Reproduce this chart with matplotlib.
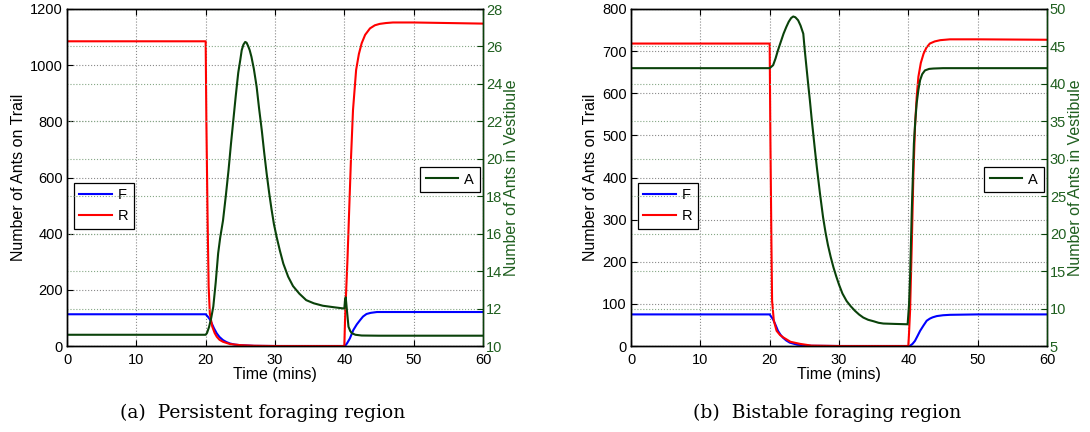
import matplotlib
matplotlib.use("Agg")
import matplotlib.pyplot as plt

# ---------------- Panel (a): Persistent foraging region ----------------
tF_a = [0, 20, 20.3, 20.6, 20.87, 21.2, 21.6, 22.0, 22.5, 23.0, 23.5, 24.2, 25, 27, 30,
        40, 40.1, 40.4, 40.8, 41.3, 41.8, 42.3, 42.7, 43.2, 43.8, 44.7, 46, 50, 60]
F_a = [113, 113, 105, 95, 81, 63, 45, 32, 21, 14, 9, 5, 3, 0.5, 0,
       0, 0, 10, 27, 57, 77, 93, 105, 114, 118, 121, 121, 121, 121]

tR_a = [0, 20, 20.1, 20.28, 20.43, 20.6, 20.95, 21.3, 21.6, 22.0, 22.5, 23.5, 25, 27, 30,
        40, 40.1, 40.25, 40.45, 40.7, 40.95, 41.25, 41.7, 42.1, 42.5, 43.0, 43.7,
        44.4, 45.1, 46, 47, 50, 55, 60]
R_a = [1085, 1085, 805, 449, 211, 116, 69, 46, 33, 22, 15, 7, 3, 1, 0,
       0, 90, 188, 306, 484, 662, 840, 983, 1040, 1078, 1108, 1131,
       1142, 1147, 1150, 1152, 1152, 1150, 1148]

tA_a = [0, 20, 20.2, 20.5, 20.8, 21.1, 21.45, 21.8, 22.1, 22.5, 22.9, 23.3, 23.65, 24.0,
        24.35, 24.7, 25.0, 25.2, 25.45, 25.7, 25.9, 26.15, 26.35, 26.6, 26.95, 27.35,
        27.7, 28.1, 28.45, 28.8, 29.15, 29.5, 29.85, 30.25, 30.7, 31.2, 31.9, 32.6,
        33.5, 34.5, 35.6, 36.9, 38.5, 40, 40.1, 40.2, 40.4, 40.6, 40.85, 41.1, 41.6,
        42.5, 45, 60]
A_a = [10.6, 10.6, 10.7, 11.03, 11.5, 12.1, 13.4, 14.95, 15.8, 16.7, 18.0, 19.4, 20.8, 22.1,
       23.4, 24.6, 25.3, 25.8, 26.1, 26.24, 26.2, 26.0, 25.8, 25.45, 24.8, 23.85,
       22.7, 21.5, 20.3, 19.2, 18.2, 17.3, 16.5, 15.8, 15.1, 14.4, 13.7, 13.2,
       12.8, 12.45, 12.28, 12.15, 12.07, 12.0, 12.45, 12.6, 11.8, 11.03, 10.8, 10.68, 10.6,
       10.56, 10.55, 10.55]

# ---------------- Panel (b): Bistable foraging region ----------------
tF_b = [0, 20, 20.5, 20.85, 21.2, 21.55, 21.9, 22.4, 22.9, 24, 26, 30,
        40, 40.2, 40.6, 40.95, 41.3, 41.7, 42.2, 42.65, 43.1, 43.5, 44.1, 45, 46, 50, 60]
F_b = [75, 75, 63, 50, 36, 27, 20, 13, 8, 3, 0.5, 0,
       0, 0, 5, 12, 23, 36, 49, 60, 65, 68, 71, 73, 74, 75, 75]

tR_b = [0, 20, 20.1, 20.25, 20.35, 20.6, 21, 21.5, 22, 23, 24.4, 26, 30,
        40, 40.1, 40.25, 40.5, 40.72, 40.96, 41.2, 41.45, 41.8, 42.2, 42.6, 43.1,
        43.8, 44.6, 46, 50, 60]
R_b = [718, 718, 500, 250, 107, 60, 36, 26, 20, 10, 5, 1, 0,
       0, 30, 83, 242, 401, 520, 590, 639, 672, 694, 708, 718,
       723, 726, 728, 728, 727]

tA_b = [0, 20, 20.5, 20.85, 21.2, 21.6, 22.0, 22.4, 22.75, 23.1, 23.4, 23.7, 24.1,
        24.45, 24.85, 25.05, 25.3, 25.55, 25.8, 26.05, 26.3, 26.55, 26.8, 27.25, 27.7,
        28.05, 28.4, 28.8, 29.2, 29.6, 30, 30.5, 31.1, 31.7, 32.3, 32.9, 33.5, 34.2,
        35, 35.7, 36.4, 38, 39.9, 40.1, 40.25, 40.5, 40.8, 41.0, 41.2, 41.45, 41.7,
        42.0, 42.4, 43.0, 43.6, 45, 60]
A_b = [42.1, 42.1, 42.5, 43.4, 44.5, 45.6, 46.7, 47.6, 48.3, 48.8, 49.0, 48.9, 48.5,
       47.8, 46.7, 44.6, 42.3, 40.0, 37.8, 35.4, 33.2, 31.0, 28.9, 25.4, 22.2,
       20.2, 18.5, 16.9, 15.5, 14.3, 13.2, 12.0, 11.0, 10.3, 9.7, 9.2, 8.8, 8.5,
       8.3, 8.1, 8.0, 7.95, 7.9, 10.5, 14.1, 23.1, 32.0, 35.0, 37.4, 39.2, 40.5,
       41.3, 41.8, 42.0, 42.05, 42.1, 42.1]

x_ticks = [0, 10, 20, 30, 40, 50, 60]
left_ticks_a = [0, 200, 400, 600, 800, 1000, 1200]
right_ticks_a = [10, 12, 14, 16, 18, 20, 22, 24, 26, 28]
left_ticks_b = [0, 100, 200, 300, 400, 500, 600, 700, 800]
right_ticks_b = [5, 10, 15, 20, 25, 30, 35, 40, 45, 50]
captions = ["(a)  Persistent foraging region", "(b)  Bistable foraging region"]

plt.rcParams['font.family'] = ['Liberation Sans', 'DejaVu Sans']
GREEN_LINE = '#0a420a'
GREEN_TXT = '#1f5f1f'

fig = plt.figure(figsize=(10.9, 4.32), dpi=100)

panels = [
    (67, tF_a, F_a, tR_a, R_a, tA_a, A_a, left_ticks_a, right_ticks_a),
    (631, tF_b, F_b, tR_b, R_b, tA_b, A_b, left_ticks_b, right_ticks_b),
]

W, H = 1090, 432
for i, (x0, tF, F, tR, R, tA, A, lt, rt) in enumerate(panels):
    ax = fig.add_axes([x0 / W, (H - 346) / H, 416 / W, 337 / H])
    ax2 = ax.twinx()
    lF, = ax.plot(tF, F, color='#0000ff', lw=1.5, label='F')
    lR, = ax.plot(tR, R, color='#ff0000', lw=1.5, label='R')
    lA, = ax2.plot(tA, A, color=GREEN_LINE, lw=1.5, label='A')

    ax.set_xlim(0, 60)
    ax.set_ylim(lt[0], lt[-1])
    ax2.set_ylim(rt[0], rt[-1])
    ax.set_xticks(x_ticks)
    ax.set_yticks(lt)
    ax2.set_yticks(rt)

    ax.grid(True, ls=':', color='#8a8a8a', lw=0.8)
    ax2.yaxis.grid(True, ls=':', color='#86a886', lw=0.8)
    ax.set_axisbelow(True)

    ax.tick_params(direction='in', length=4, labelsize=10.5, top=True, right=False,
                   pad=3, width=0.8)
    ax.tick_params(axis='x', pad=5)
    ax2.tick_params(direction='in', length=4, labelsize=10.5, colors=GREEN_TXT,
                    pad=2, width=0.8)
    ax2.tick_params(axis='y', color=GREEN_LINE)
    for s in ax.spines.values():
        s.set_linewidth(1.0)
    for s in ax2.spines.values():
        s.set_linewidth(1.0)
    ax2.spines['right'].set_color(GREEN_LINE)

    ax.set_xlabel('Time (mins)', fontsize=11.5, labelpad=0)
    ax.set_ylabel('Number of Ants on Trail', fontsize=11.5, labelpad=3)
    ax2.set_ylabel('Number of Ants in Vestibule', fontsize=11.5, color=GREEN_TXT,
                   labelpad=1)

    leg1 = ax.legend(handles=[lF, lR], loc='upper left',
                     bbox_to_anchor=(0.016, 0.485), fancybox=False,
                     edgecolor='black', framealpha=1, fontsize=10.5,
                     handlelength=2.2, borderpad=0.4, labelspacing=0.45,
                     handletextpad=0.4, borderaxespad=0)
    leg1.get_frame().set_linewidth(0.9)
    leg2 = ax2.legend(handles=[lA], loc='upper right',
                      bbox_to_anchor=(0.992, 0.532), fancybox=False,
                      edgecolor='black', framealpha=1, fontsize=10.5,
                      handlelength=2.2, borderpad=0.4, handletextpad=0.4,
                      borderaxespad=0)
    leg2.get_frame().set_linewidth(0.9)

    fig.text((x0 + 196) / W, 1 - 413 / H, captions[i], ha='center', va='center',
             fontsize=13.5, family=['DejaVu Serif', 'Liberation Serif'])

fig.savefig('out.png', dpi=100)
